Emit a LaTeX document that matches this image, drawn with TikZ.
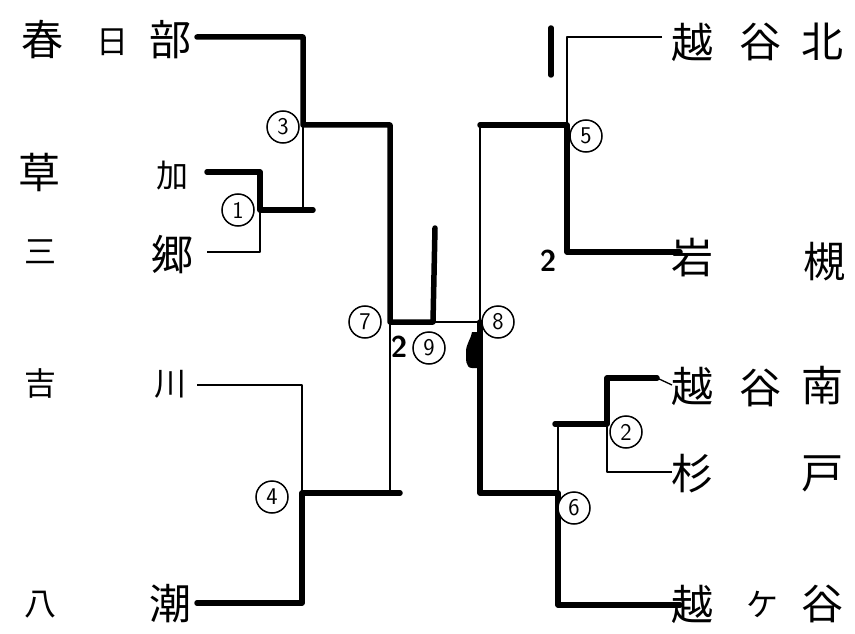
\documentclass[tikz,border=0pt]{standalone}
\usepackage{fontspec}
\newfontfamily\cjk{Noto Sans CJK JP}
\tikzset{
  win/.style={line width=5.5pt, line cap=round, line join=round},
  lose/.style={line width=1.3pt, line join=round},
  midline/.style={line width=2.2pt},
  mnum/.style={circle, draw, fill=white, line width=1.5pt, minimum size=32pt, inner sep=0pt, font=\sffamily\fontsize{24}{24}\selectfont},
  nm/.style={font=\cjk\fontsize{42}{42}\selectfont, inner sep=0pt},
  nms/.style={font=\cjk\fontsize{32}{32}\selectfont, inner sep=0pt},
  score/.style={font=\sffamily\bfseries\fontsize{30}{30}\selectfont, inner sep=0pt}
}
\begin{document}
\begin{tikzpicture}[x=1pt,y=-1pt]
\useasboundingbox (0,0) rectangle (855,634);
% ---- names, left
\node[nm] (l1a) at (42,40) {春};
\node[nms] (l1b) at (112,42) {日};
\node[nm] (l1c) at (170,40) {部};
\node[nm] (l2a) at (40,172) {草};
\node[nms] (l2b) at (172,176) {加};
\node[nms] (l3a) at (40,252) {三};
\node[nm] (l3b) at (172,255) {郷};
\node[nms] (l4a) at (40,383) {吉};
\node[nms] (l4b) at (170,384) {川};
\node[nms] (l5a) at (40,605) {八};
\node[nm] (l5b) at (170,604) {潮};
% ---- names, right
\node[nm] (r1a) at (692,42) {越};
\node[nm] (r1b) at (760,42) {谷};
\node[nm] (r1c) at (822,42) {北};
\node[nm] (r2a) at (692,258) {岩};
\node[nm] (r2b) at (824,262) {槻};
\node[nm] (r3a) at (692,386) {越};
\node[nm] (r3b) at (760,388) {谷};
\node[nm] (r3c) at (822,386) {南};
\node[nm] (r4a) at (692,474) {杉};
\node[nm] (r4b) at (822,474) {戸};
\node[nm] (r5a) at (692,604) {越};
\node[nms] (r5b) at (762,604) {ケ};
\node[nm] (r5c) at (822,604) {谷};
% ---- line ends and junctions
\coordinate (e1) at (197,37);
\coordinate (e2) at (207,172);
\coordinate (e3) at (207,252);
\coordinate (e4) at (197,385);
\coordinate (e5) at (197,603);
\coordinate (f1) at (662,37);
\coordinate (f2) at (680,252);
\coordinate (f3) at (657,378);
\coordinate (f3b) at (672,385);
\coordinate (f4) at (672,472);
\coordinate (f5) at (680,605);
\coordinate (j1) at (260,210);
\coordinate (j1e) at (313,210);
\coordinate (j3) at (303,125);
\coordinate (j4) at (302,493);
\coordinate (j7) at (390,322);
\coordinate (j9) at (433,322);
\coordinate (top) at (435,228);
\coordinate (j5) at (567,125);
\coordinate (j8) at (480,322);
\coordinate (j2) at (607,424);
\coordinate (j6) at (558,493);
\coordinate (mk1) at (551,28);
\coordinate (mk2) at (551,75);
% ---- losing (thin) lines
\draw[lose] (j3) -- (j3 |- j1);
\draw[lose] (e3) -| (j1);
\draw[lose] (e4) -| (j4);
\draw[midline] (j7) -- (j7 |- j4);
\draw[lose] (j9) -- (j8);
\draw[lose] (f1) -| (j5);
\draw[lose] (j8) |- (j5);
\draw[lose] (j6) -- (j6 |- j2);
\draw[lose] (f4) -| (j2);
\draw[lose] (f3) -- (f3b);
% ---- winning (thick) lines
\draw[win] (e1) -| (j3) -| (j7) -- (j9) -- (top);
\draw[win] (e2) -| (j1) -- (j1e);
\draw[win] (e5) -| (j4) -- (400,493);
\draw[win] (f2) -| (j5) -- (j8 |- j5);
\draw[win] (f5) -| (j6) -| (j8);
\draw[win] (f3) -| (j2) -- (555,424);
\draw[win] (mk1) -- (mk2);
\fill (j8 |- 0,332) ++(-8,0) to[out=-100,in=90] ++(-6,20) to[out=-90,in=180] ++(6,16) -- ++(8,0) -- ++(0,-36) -- cycle;
% ---- match numbers
\node[mnum] (m3) at (283,127) {3};
\node[mnum] (m1) at (238,210) {1};
\node[mnum] (m4) at (272,497) {4};
\node[mnum] (m7) at (365,322) {7};
\node[mnum] (m9) at (429,348) {9};
\node[mnum] (m8) at (498,322) {8};
\node[mnum] (m5) at (586,136) {5};
\node[mnum] (m2) at (626,432) {2};
\node[mnum] (m6) at (574,508) {6};
% ---- scores
\node[score] (s9) at (399,347) {2};
\node[score] (s5) at (548,261) {2};
\end{tikzpicture}
\end{document}
